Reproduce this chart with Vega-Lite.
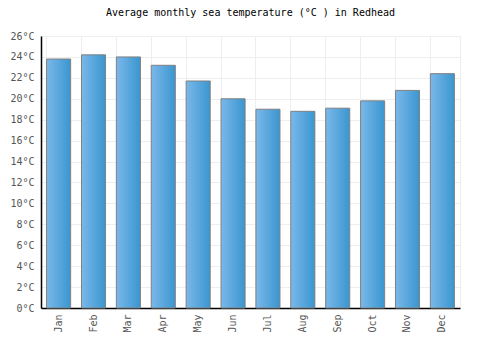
{
  "$schema": "https://vega.github.io/schema/vega-lite/v6.json",
  "width": 419,
  "height": 272,
  "autosize": {"type": "none"},
  "padding": {"left": 41, "top": 36, "right": 40, "bottom": 42},
  "background": "white",
  "title": {
    "text": "Average monthly sea temperature (°C ) in Redhead",
    "font": "DejaVu Sans Mono",
    "fontSize": 10,
    "fontWeight": "normal",
    "color": "#000000",
    "anchor": "middle",
    "offset": 13
  },
  "config": {
    "view": {"stroke": "#eeeeee"},
    "axis": {
      "labelFont": "DejaVu Sans Mono",
      "labelFontSize": 10,
      "labelColor": "#555555",
      "gridColor": "#eeeeee",
      "domainColor": "#000000",
      "ticks": false,
      "title": null
    }
  },
  "data": {
    "values": [
      {"month": "Jan", "temp": 23.8},
      {"month": "Feb", "temp": 24.2},
      {"month": "Mar", "temp": 24.0},
      {"month": "Apr", "temp": 23.2},
      {"month": "May", "temp": 21.7},
      {"month": "Jun", "temp": 20.0},
      {"month": "Jul", "temp": 19.0},
      {"month": "Aug", "temp": 18.8},
      {"month": "Sep", "temp": 19.1},
      {"month": "Oct", "temp": 19.8},
      {"month": "Nov", "temp": 20.8},
      {"month": "Dec", "temp": 22.4}
    ]
  },
  "mark": {
    "type": "bar",
    "stroke": "#808080",
    "strokeWidth": 1,
    "color": {
      "gradient": "linear",
      "x1": 0, "x2": 1, "y1": 0, "y2": 0,
      "stops": [
        {"offset": 0, "color": "#7ab8ea"},
        {"offset": 1, "color": "#3a96cf"}
      ]
    }
  },
  "encoding": {
    "x": {
      "field": "month",
      "type": "nominal",
      "sort": null,
      "scale": {"paddingInner": 0.31, "paddingOuter": 0.16},
      "axis": {"labelAngle": -90, "labelPadding": 6, "bandPosition": 0, "grid": true, "domainWidth": 1.5}
    },
    "y": {
      "field": "temp",
      "type": "quantitative",
      "scale": {"domain": [0, 26], "nice": false},
      "axis": {"values": [0,2,4,6,8,10,12,14,16,18,20,22,24,26], "labelExpr": "datum.value + '°C'", "labelPadding": 7, "domainWidth": 1.5}
    }
  }
}
